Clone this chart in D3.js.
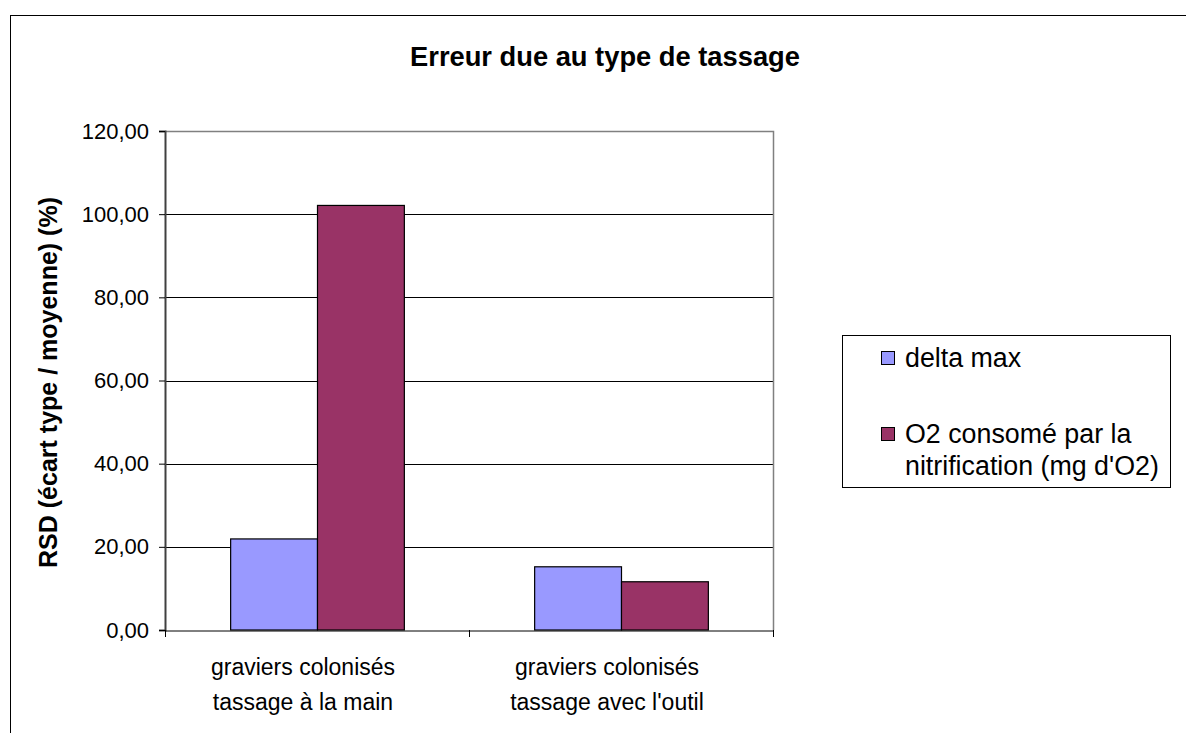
<!DOCTYPE html>
<html>
<head>
<meta charset="utf-8">
<script src="https://cdn.jsdelivr.net/npm/d3@7"></script>
<style>
  html, body { margin: 0; padding: 0; background: #fff; }
  svg { display: block; font-family: "Liberation Sans", Arial, sans-serif; }
</style>
</head>
<body>
<svg id="chart" width="1186" height="733"></svg>
<script>
// Categories (two-line labels), series and y-axis ticks
const categories = [
  ["graviers colonisés", "tassage à la main"],
  ["graviers colonisés", "tassage avec l'outil"]
];
const seriesNames = ["delta max", "O2 consomé par la nitrification (mg d'O2)"];
const legendLines = [["delta max"], ["O2 consomé par la", "nitrification (mg d'O2)"]];
const deltaMax = [21.9, 15.2];
const o2Consumed = [102.1, 11.6];
const yTicks = [0, 20, 40, 60, 80, 100, 120];
const colors = ["#9999FF", "#993366"];

const svg = d3.select("#chart");

// Outer frame of the chart
svg.append("rect")
  .attr("x", 10.5).attr("y", 15.5)
  .attr("width", 1300).attr("height", 900)
  .attr("fill", "#fff").attr("stroke", "#000").attr("stroke-width", 1);

const plot = { left: 165, right: 773, top: 131, bottom: 630 };

const y = d3.scaleLinear().domain([0, 120]).range([plot.bottom, plot.top]);
const x = d3.scaleBand().domain(d3.range(categories.length))
  .range([plot.left, plot.right]).padding(0);
const barW = x.bandwidth() / 3.5;
const xs = d3.scaleBand().domain(d3.range(seriesNames.length))
  .range([0, barW * seriesNames.length]);

// Gridlines
svg.append("g").selectAll("line")
  .data(yTicks.filter(t => t > 0 && t < 120))
  .join("line")
  .attr("x1", plot.left).attr("x2", plot.right)
  .attr("y1", d => Math.round(y(d)) + 0.5).attr("y2", d => Math.round(y(d)) + 0.5)
  .attr("stroke", "#000").attr("stroke-width", 1);

// Plot area border (top and right)
svg.append("path")
  .attr("d", `M${plot.left},${plot.top + 0.5}H${plot.right + 0.5}V${plot.bottom}`)
  .attr("fill", "none").attr("stroke", "#808080").attr("stroke-width", 1.5);

// Bars
const values = [deltaMax, o2Consumed];
const groups = svg.append("g").selectAll("g")
  .data(categories.map((c, i) => i))
  .join("g")
  .attr("transform", i => `translate(${x(i) + (x.bandwidth() - barW * 2) / 2},0)`);

groups.selectAll("rect")
  .data(i => values.map((s, k) => ({ k, v: s[i] })))
  .join("rect")
  .attr("x", d => xs(d.k) + 0.5)
  .attr("width", barW)
  .attr("y", d => y(d.v))
  .attr("height", d => y(0) - y(d.v))
  .attr("fill", d => colors[d.k])
  .attr("stroke", "#000").attr("stroke-width", 1.2);

// Y axis
const yAxis = d3.axisLeft(y).tickValues(yTicks).tickSize(6).tickPadding(10)
  .tickFormat(d => d3.format(".2f")(d).replace(".", ","));
const gy = svg.append("g").attr("transform", `translate(${plot.left},0)`).call(yAxis);
gy.select(".domain").attr("stroke", "#404040").attr("stroke-width", 2);
gy.selectAll(".tick line").attr("stroke", "#000");
gy.selectAll(".tick text").attr("font-size", 22).attr("fill", "#000")
  .attr("font-family", "Liberation Sans, Arial, sans-serif");

// X axis
const xAxis = d3.axisBottom(x).tickValues([]).tickSizeOuter(0);
const gx = svg.append("g").attr("transform", `translate(0,${plot.bottom + 0.5})`).call(xAxis);
gx.select(".domain").attr("stroke", "#000").attr("stroke-width", 1);
svg.append("g").selectAll("line")
  .data([plot.left, x(1), plot.right])
  .join("line")
  .attr("x1", d => Math.round(d) + 0.5).attr("x2", d => Math.round(d) + 0.5)
  .attr("y1", plot.bottom).attr("y2", plot.bottom + 7)
  .attr("stroke", "#000");

// Category labels (set slightly left of each category centre)
const catLabels = svg.append("g").selectAll("text")
  .data(categories.map((c, i) => ({ c, i })))
  .join("text")
  .attr("text-anchor", "middle")
  .attr("font-size", 23)
  .attr("fill", "#000");
catLabels.selectAll("tspan")
  .data(d => d.c.map((line, j) => ({ line, j, i: d.i })))
  .join("tspan")
  .attr("x", d => x(d.i) + x.bandwidth() / 2 - 14)
  .attr("y", d => 675 + d.j * 35)
  .text(d => d.line);

// Title
svg.append("text")
  .attr("x", 605).attr("y", 66)
  .attr("text-anchor", "middle")
  .attr("font-size", 27.3).attr("font-weight", "bold")
  .text("Erreur due au type de tassage");

// Y axis title
svg.append("text")
  .attr("transform", `translate(57,${(plot.top + plot.bottom) / 2 + 2}) rotate(-90)`)
  .attr("text-anchor", "middle")
  .attr("font-size", 25).attr("font-weight", "bold")
  .text("RSD (écart type / moyenne) (%)");

// Legend
const legend = svg.append("g");
legend.append("rect")
  .attr("x", 842.5).attr("y", 335.5).attr("width", 328).attr("height", 152)
  .attr("fill", "#fff").attr("stroke", "#000").attr("stroke-width", 1);
const entryY = [367, 443];
seriesNames.forEach((name, k) => {
  legend.append("rect")
    .attr("x", 881.5).attr("y", entryY[k] - 15.5).attr("width", 13).attr("height", 13)
    .attr("fill", colors[k]).attr("stroke", "#000").attr("stroke-width", 1);
  const t = legend.append("text").attr("font-size", 26.8).attr("fill", "#000");
  legendLines[k].forEach((line, j) => {
    t.append("tspan").attr("x", 905).attr("y", entryY[k] + j * 32).text(line);
  });
});
</script>
</body>
</html>
